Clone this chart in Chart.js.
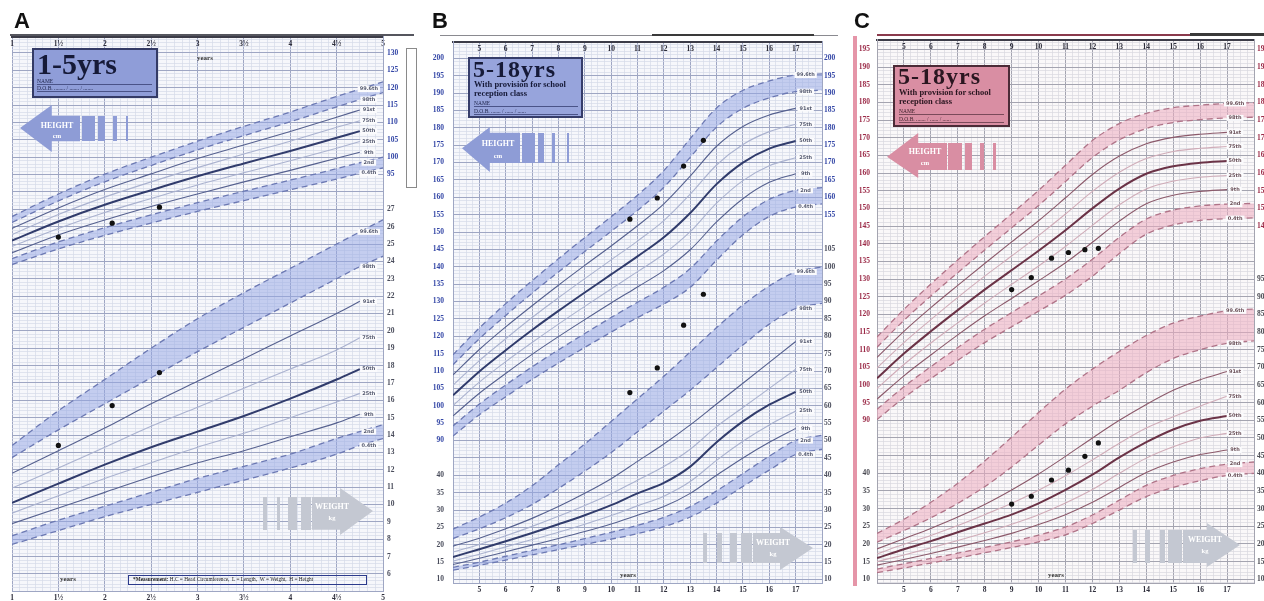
<!DOCTYPE html>
<html lang="en">
<head>
<meta charset="UTF-8">
<meta name="viewport" content="width=device-width, initial-scale=1.0">
<title>Growth charts A, B, C</title>
<script src="https://cdn.jsdelivr.net/npm/chart.js"></script>
<style>
  body { margin: 0; background: #fff; }
  #page { position: relative; width: 1264px; height: 601px; overflow: hidden; font-family: "Liberation Serif", serif; }
  #page canvas { position: absolute; }
  .abs { position: absolute; white-space: nowrap; }
  .letter { font: bold 22px/22px "Liberation Sans", Arial, sans-serif; color: #111; }
  .tbox { position: absolute; box-sizing: border-box; border: 2px solid; }
  .big { font-weight: bold; line-height: 1; }
  .sub { font-weight: bold; font-size: 8.5px; line-height: 1; }
  .fld { font-size: 5.5px; line-height: 6px; border-bottom: 1px solid; box-sizing: border-box; }
  .atext { color: #fff; font: bold 8px/1 "Liberation Serif", serif; text-align: center; }
  .years { font: bold 7px/1 "Liberation Serif", serif; color: #333; }
</style>
</head>
<body>
<div id="page">
  <canvas id="chartA" width="420" height="577" style="left:0;top:28px"></canvas>
  <canvas id="chartB" width="420" height="577" style="left:420px;top:28px"></canvas>
  <canvas id="chartC" width="419" height="577" style="left:845px;top:28px"></canvas>

  <div class="abs letter" style="left:14px;top:10px">A</div>
  <div class="abs letter" style="left:432px;top:10px">B</div>
  <div class="abs letter" style="left:854px;top:10px">C</div>

  <div class="abs" style="left:10px;top:34px;width:404px;height:2px;background:#55565e"></div>
  <div class="abs" style="left:440px;top:35px;width:398px;height:1px;background:#8a8a90"></div>
  <div class="abs" style="left:652px;top:34px;width:162px;height:2px;background:#3a3a3a"></div>
  <div class="abs" style="left:877px;top:34px;width:313px;height:2px;background:#8a3a4c"></div>
  <div class="abs" style="left:1190px;top:33px;width:74px;height:3px;background:#3a3a3a"></div>
  <div class="abs" style="left:853px;top:36px;width:4px;height:550px;background:#e595a8"></div>

  <!-- A: title box -->
  <div class="tbox" style="left:32px;top:48px;width:126px;height:50px;background:#8f9dd8;border-color:#343b66"></div>
  <div class="abs big" style="left:37px;top:49px;font-size:30px;color:#161a38">1-5yrs</div>
  <div class="abs fld" style="left:37px;top:78px;width:115px;color:#22284f;border-color:#4a5388">NAME</div>
  <div class="abs fld" style="left:37px;top:85px;width:115px;color:#22284f;border-color:#4a5388">D.O.B. ........ / ....... / .......</div>
  <div class="abs years" style="left:197px;top:55px">years</div>
  <div class="abs" style="left:406px;top:48px;width:11px;height:140px;border:1px solid #8a8a8a;box-sizing:border-box;background:#fff"></div>

  <!-- A: height arrow -->
  <div class="abs" style="left:20px;top:105px;width:60px;height:47px;background:#8e9cd6;clip-path:polygon(0 49%,53% 0,53% 23%,100% 23%,100% 77%,53% 77%,53% 100%)"></div>
  <div class="abs" style="left:82px;top:116px;width:13px;height:25px;background:#8e9cd6"></div>
  <div class="abs" style="left:98px;top:116px;width:7px;height:25px;background:#8e9cd6"></div>
  <div class="abs" style="left:113px;top:116px;width:4px;height:25px;background:#8e9cd6"></div>
  <div class="abs" style="left:126px;top:116px;width:2px;height:25px;background:#8e9cd6"></div>
  <div class="abs atext" style="left:37px;top:122px;width:40px">HEIGHT</div>
  <div class="abs atext" style="left:37px;top:133px;width:40px;font-size:6.5px">cm</div>

  <!-- A: weight arrow -->
  <div class="abs" style="left:263px;top:497px;width:4px;height:33px;background:#c4c8d2"></div>
  <div class="abs" style="left:277px;top:497px;width:3px;height:33px;background:#c4c8d2"></div>
  <div class="abs" style="left:288px;top:497px;width:9px;height:33px;background:#c4c8d2"></div>
  <div class="abs" style="left:301px;top:497px;width:10px;height:33px;background:#c4c8d2"></div>
  <div class="abs" style="left:312px;top:488px;width:61px;height:47px;background:#c4c8d2;clip-path:polygon(0 19%,46% 19%,46% 0,100% 49%,46% 100%,46% 89%,0 89%)"></div>
  <div class="abs atext" style="left:311px;top:503px;width:42px">WEIGHT</div>
  <div class="abs atext" style="left:311px;top:515px;width:42px;font-size:6.5px">kg</div>

  <div class="abs years" style="left:60px;top:576px">years</div>
  <div class="abs" style="left:128px;top:575px;width:239px;height:10px;border:1.5px solid #2b3a8c;box-sizing:border-box;font:5.3px/7px 'Liberation Serif',serif;color:#222;padding-left:4px"><b>*Measurement:</b> H.C = Head Circumference, &nbsp;L = Length, &nbsp;W = Weight, &nbsp;H = Height</div>

  <!-- B: title box -->
  <div class="tbox" style="left:468px;top:57px;width:115px;height:61px;background:#97a4dc;border-color:#363d6a"></div>
  <div class="abs big" style="left:473px;top:57px;font-size:24px;letter-spacing:1px;color:#161a38">5-18yrs</div>
  <div class="abs sub" style="left:474px;top:80px;color:#161a38">With provision for school</div>
  <div class="abs sub" style="left:474px;top:88.5px;color:#161a38">reception class</div>
  <div class="abs fld" style="left:474px;top:100px;width:104px;color:#22284f;border-color:#4a5388">NAME</div>
  <div class="abs fld" style="left:474px;top:108px;width:104px;color:#22284f;border-color:#4a5388">D.O.B. ....... / ...... / ......</div>

  <!-- B: height arrow -->
  <div class="abs" style="left:462px;top:127px;width:58px;height:45px;background:#8e9cd6;clip-path:polygon(0 47%,48% 0,48% 13%,100% 13%,100% 80%,48% 80%,48% 100%)"></div>
  <div class="abs" style="left:522px;top:133px;width:13px;height:30px;background:#8e9cd6"></div>
  <div class="abs" style="left:538px;top:133px;width:6px;height:30px;background:#8e9cd6"></div>
  <div class="abs" style="left:552px;top:133px;width:3px;height:30px;background:#8e9cd6"></div>
  <div class="abs" style="left:567px;top:133px;width:2px;height:30px;background:#8e9cd6"></div>
  <div class="abs atext" style="left:477px;top:140px;width:42px">HEIGHT</div>
  <div class="abs atext" style="left:477px;top:153px;width:42px;font-size:6.5px">cm</div>

  <!-- B: weight arrow -->
  <div class="abs" style="left:703px;top:533px;width:4px;height:30px;background:#c4c8d2"></div>
  <div class="abs" style="left:717px;top:533px;width:5px;height:30px;background:#c4c8d2"></div>
  <div class="abs" style="left:730px;top:533px;width:7px;height:30px;background:#c4c8d2"></div>
  <div class="abs" style="left:741px;top:533px;width:11px;height:30px;background:#c4c8d2"></div>
  <div class="abs" style="left:753px;top:527px;width:60px;height:43px;background:#c4c8d2;clip-path:polygon(0 14%,45% 14%,45% 0,100% 49%,45% 100%,45% 84%,0 84%)"></div>
  <div class="abs atext" style="left:753px;top:539px;width:40px">WEIGHT</div>
  <div class="abs atext" style="left:753px;top:551px;width:40px;font-size:6.5px">kg</div>
  <div class="abs years" style="left:620px;top:572px">years</div>

  <!-- C: title box -->
  <div class="tbox" style="left:893px;top:65px;width:117px;height:62px;background:#d98ea3;border-color:#4b2b37"></div>
  <div class="abs big" style="left:898px;top:64px;font-size:24px;letter-spacing:1px;color:#2a1620">5-18yrs</div>
  <div class="abs sub" style="left:899px;top:88px;color:#2a1620">With provision for school</div>
  <div class="abs sub" style="left:899px;top:96.5px;color:#2a1620">reception class</div>
  <div class="abs fld" style="left:899px;top:108px;width:105px;color:#3a1e28;border-color:#7a4a5a">NAME</div>
  <div class="abs fld" style="left:899px;top:116px;width:105px;color:#3a1e28;border-color:#7a4a5a">D.O.B. ....... / ...... / ......</div>

  <!-- C: height arrow -->
  <div class="abs" style="left:887px;top:133px;width:60px;height:45px;background:#d98ea3;clip-path:polygon(0 53%,52% 0,52% 22%,100% 22%,100% 82%,52% 82%,52% 100%)"></div>
  <div class="abs" style="left:948px;top:143px;width:14px;height:27px;background:#d98ea3"></div>
  <div class="abs" style="left:965px;top:143px;width:7px;height:27px;background:#d98ea3"></div>
  <div class="abs" style="left:980px;top:143px;width:4px;height:27px;background:#d98ea3"></div>
  <div class="abs" style="left:993px;top:143px;width:3px;height:27px;background:#d98ea3"></div>
  <div class="abs atext" style="left:905px;top:148px;width:40px">HEIGHT</div>
  <div class="abs atext" style="left:905px;top:160px;width:40px;font-size:6.5px">cm</div>

  <!-- C: weight arrow -->
  <div class="abs" style="left:1133px;top:530px;width:4px;height:33px;background:#c4c8d2"></div>
  <div class="abs" style="left:1145px;top:530px;width:5px;height:33px;background:#c4c8d2"></div>
  <div class="abs" style="left:1160px;top:530px;width:5px;height:33px;background:#c4c8d2"></div>
  <div class="abs" style="left:1168px;top:530px;width:14px;height:33px;background:#c4c8d2"></div>
  <div class="abs" style="left:1183px;top:523px;width:57px;height:44px;background:#c4c8d2;clip-path:polygon(0 16%,42% 16%,42% 0,100% 50%,42% 100%,42% 91%,0 91%)"></div>
  <div class="abs atext" style="left:1184px;top:536px;width:42px">WEIGHT</div>
  <div class="abs atext" style="left:1184px;top:548px;width:42px;font-size:6.5px">kg</div>
  <div class="abs years" style="left:1048px;top:572px">years</div>
</div>

<script>
// centile order used in every table below
const centileNames = ['99.6th', '98th', '91st', '75th', '50th', '25th', '9th', '2nd', '0.4th'];

// ---- A: 1-5 yrs (boy) ----
const aAges = [1, 1.5, 2, 2.5, 3, 3.5, 4, 4.5, 4.75, 5];
const aHeight = [
  [82.9, 89.4, 95.1, 100.0, 104.6, 108.9, 113.0, 117.5, 119.6, 121.7],
  [81.2, 87.4, 92.9, 97.6, 102.1, 106.2, 110.2, 114.5, 116.6, 118.6],
  [79.5, 85.4, 90.7, 95.2, 99.6, 103.5, 107.4, 111.5, 113.6],
  [77.7, 83.5, 88.5, 92.9, 97.0, 100.9, 104.6, 108.6, 110.5],
  [76.0, 81.5, 86.3, 90.5, 94.5, 98.2, 101.8, 105.6, 107.5],
  [74.3, 79.5, 84.1, 88.1, 92.0, 95.5, 99.0, 102.6, 104.5],
  [72.5, 77.6, 81.9, 85.8, 89.4, 92.9, 96.2, 99.7, 101.4],
  [70.8, 75.6, 79.7, 83.4, 86.9, 90.2, 93.4, 96.7, 98.4, 100.0],
  [69.1, 73.6, 77.5, 81.0, 84.4, 87.5, 90.6, 93.7, 95.4, 96.9]
];
const aWeight = [
  [13.4, 15.4, 17.2, 19.0, 20.7, 22.2, 23.6, 25.0, 25.7, 26.4],
  [12.7, 14.3, 15.8, 17.3, 18.8, 20.2, 21.6, 23.0, 23.7, 24.3],
  [11.8, 13.1, 14.4, 15.8, 17.1, 18.4, 19.7, 21.0, 21.7],
  [10.95, 12.1, 13.3, 14.5, 15.6, 16.7, 17.8, 18.9, 19.6],
  [10.1, 11.2, 12.3, 13.3, 14.2, 15.1, 16.1, 17.2, 17.8],
  [9.5, 10.5, 11.5, 12.4, 13.3, 14.1, 15.0, 15.9, 16.4],
  [8.9, 9.8, 10.7, 11.6, 12.4, 13.1, 13.9, 14.7, 15.2],
  [8.2, 9.1, 9.9, 10.7, 11.5, 12.2, 12.9, 13.8, 14.2, 14.6],
  [7.7, 8.5, 9.3, 10.0, 10.7, 11.4, 12.1, 12.9, 13.4, 13.8]
];
const aDotAges = [1.5, 2.08, 2.59];
const aDotHeight = [77.0, 81.0, 85.6];
const aDotWeight = [13.4, 15.7, 17.6];
const aYearTicks = [1, 1.5, 2, 2.5, 3, 3.5, 4, 4.5, 5];
const aYearLabels = ['1', '1½', '2', '2½', '3', '3½', '4', '4½', '5'];
const aHeightTicks = [95, 100, 105, 110, 115, 120, 125, 130];
const aWeightTicks = [6, 7, 8, 9, 10, 11, 12, 13, 14, 15, 16, 17, 18, 19, 20, 21, 22, 23, 24, 25, 26, 27];

// ---- B: 5-18 yrs (boy) ----
const bAges = [4, 5, 6, 7, 8, 9, 10, 11, 12, 13, 14, 15, 16, 17, 18];
const bHeight = [
  [114.7, 122.4, 129.4, 136.0, 142.3, 148.4, 154.4, 160.6, 167.7, 176.9, 185.7, 190.8, 193.5, 195.2, 195.5],
  [111.8, 119.3, 126.0, 132.4, 138.5, 144.4, 150.2, 156.2, 162.9, 171.5, 180.2, 185.6, 188.6, 190.4, 190.8],
  [108.9, 116.2, 122.7, 128.8, 134.7, 140.4, 146.0, 151.8, 158.1, 166.1, 174.7, 180.4, 183.7, 185.6, 186.1],
  [105.9, 113.0, 119.3, 125.4, 131.1, 136.6, 142.0, 147.4, 153.3, 160.9, 169.3, 175.2, 178.9, 181.0, 181.5],
  [103.0, 109.9, 116.0, 121.8, 127.3, 132.6, 137.8, 143.0, 148.5, 155.5, 163.8, 170.0, 174.0, 176.2, 176.8],
  [100.1, 106.8, 112.7, 118.2, 123.5, 128.6, 133.6, 138.6, 143.7, 150.1, 158.3, 164.8, 169.1, 171.4, 172.1],
  [97.1, 103.6, 109.3, 114.8, 119.9, 124.8, 129.6, 134.2, 138.9, 144.9, 152.9, 159.6, 164.3, 166.8, 167.5],
  [94.2, 100.5, 106.0, 111.2, 116.1, 120.8, 125.4, 129.8, 134.1, 139.5, 147.4, 154.4, 159.4, 162.0, 162.8],
  [91.3, 97.4, 102.6, 107.6, 112.3, 116.8, 121.2, 125.4, 129.3, 134.1, 141.9, 149.2, 154.5, 157.2, 158.1]
];
const bWeight = [
  [24.5, 28.0, 32.0, 37.0, 43.0, 49.0, 55.5, 62.0, 68.5, 75.5, 82.5, 89.0, 94.5, 98.5, 100.0],
  [21.8, 24.6, 27.8, 31.6, 36.2, 41.2, 46.5, 52.5, 58.5, 64.5, 71.0, 77.5, 83.5, 88.0, 89.5],
  [19.6, 21.9, 24.6, 27.6, 31.0, 34.8, 39.0, 44.0, 49.0, 54.5, 60.5, 66.5, 72.5, 78.5, 80.5],
  [17.9, 20.1, 22.6, 25.3, 28.2, 31.3, 34.7, 38.6, 42.5, 47.5, 54.0, 59.5, 65.0, 70.5, 72.5],
  [16.5, 18.7, 21.0, 23.4, 25.9, 28.5, 31.4, 34.8, 37.8, 42.5, 49.5, 55.5, 60.3, 64.0, 65.5],
  [15.3, 17.3, 19.4, 21.5, 23.6, 25.9, 28.4, 31.2, 34.0, 38.2, 44.3, 49.8, 54.5, 58.5, 60.0],
  [14.3, 16.1, 18.0, 19.9, 21.8, 23.8, 26.0, 28.5, 31.0, 34.8, 40.0, 45.0, 49.5, 53.5, 55.0],
  [13.5, 15.0, 16.7, 18.4, 20.0, 21.8, 23.6, 25.6, 27.9, 31.0, 35.5, 40.5, 45.5, 50.0, 51.5],
  [12.7, 14.1, 15.6, 17.1, 18.6, 20.1, 21.6, 23.2, 25.2, 28.0, 32.0, 36.8, 41.5, 46.0, 47.5]
];
const bDotAges = [10.71, 11.75, 12.75, 13.5];
const bDotHeight = [153.7, 159.8, 169.0, 176.4];
const bDotWeight = [63.8, 70.9, 83.2, 92.1];
const bYearTicks = [5, 6, 7, 8, 9, 10, 11, 12, 13, 14, 15, 16, 17];
const bHeightLeft = [90, 95, 100, 105, 110, 115, 120, 125, 130, 135, 140, 145, 150, 155, 160, 165, 170, 175, 180, 185, 190, 195, 200];
const bWeightLeft = [10, 15, 20, 25, 30, 35, 40];
const bHeightRight = [155, 160, 165, 170, 175, 180, 185, 190, 195, 200];
const bWeightRight = [10, 15, 20, 25, 30, 35, 40, 45, 50, 55, 60, 65, 70, 75, 80, 85, 90, 95, 100, 105];

// ---- C: 5-18 yrs (girl) ----
const cAges = [4, 5, 6, 7, 8, 9, 10, 11, 12, 13, 14, 15, 16, 17, 18];
const cHeight = [
  [113.6, 121.4, 128.6, 135.4, 142.0, 148.5, 155.1, 162.2, 169.2, 174.0, 176.9, 178.5, 179.2, 179.7, 179.9],
  [110.7, 118.3, 125.2, 131.8, 138.2, 144.5, 150.8, 157.6, 164.4, 169.4, 172.6, 174.3, 175.1, 175.6, 175.8],
  [107.8, 115.2, 121.9, 128.2, 134.4, 140.5, 146.5, 153.0, 159.6, 164.8, 168.3, 170.1, 171.0, 171.5, 171.7],
  [104.8, 112.0, 118.5, 124.8, 130.8, 136.5, 142.3, 148.4, 154.8, 160.2, 164.1, 166.1, 167.0, 167.5, 167.7],
  [101.9, 108.9, 115.2, 121.2, 127.0, 132.5, 138.0, 143.8, 150.0, 155.6, 159.8, 161.9, 162.9, 163.4, 163.6],
  [99.0, 105.8, 111.9, 117.6, 123.2, 128.5, 133.7, 139.2, 145.2, 151.0, 155.5, 157.7, 158.8, 159.3, 159.5],
  [96.0, 102.6, 108.5, 114.2, 119.6, 124.5, 129.5, 134.6, 140.4, 146.4, 151.3, 153.7, 154.8, 155.3, 155.5],
  [93.1, 99.5, 105.2, 110.6, 115.8, 120.5, 125.2, 130.0, 135.6, 141.8, 147.0, 149.5, 150.7, 151.2, 151.4],
  [90.2, 96.4, 101.8, 107.0, 112.0, 116.5, 120.9, 125.4, 130.8, 137.2, 142.7, 145.3, 146.6, 147.1, 147.3]
];
const cWeight = [
  [23.0, 27.0, 31.8, 37.2, 43.5, 50.2, 57.2, 63.8, 69.5, 74.5, 79.0, 82.5, 84.5, 86.0, 86.5],
  [20.5, 23.8, 27.4, 31.5, 36.2, 41.8, 48.0, 54.0, 59.0, 63.5, 68.5, 72.5, 75.0, 76.8, 77.5],
  [18.6, 21.5, 24.4, 27.6, 31.2, 35.3, 39.8, 44.8, 50.0, 55.0, 59.5, 63.5, 66.5, 68.8, 69.5],
  [17.2, 19.9, 22.4, 25.2, 28.3, 31.5, 35.2, 39.3, 43.8, 48.5, 52.8, 56.0, 59.0, 61.8, 62.5],
  [16.0, 18.5, 20.8, 23.3, 25.8, 28.3, 31.5, 35.3, 39.6, 44.5, 48.8, 52.4, 54.9, 56.2, 56.8],
  [15.0, 16.9, 18.9, 21.0, 23.2, 25.6, 28.3, 31.6, 35.4, 40.0, 44.3, 47.5, 50.0, 51.3, 51.8],
  [14.0, 15.6, 17.3, 19.1, 21.0, 23.0, 25.5, 28.3, 31.8, 36.0, 40.2, 43.2, 45.3, 46.6, 47.2],
  [12.9, 14.4, 15.9, 17.4, 19.0, 20.6, 22.5, 24.8, 28.2, 32.4, 36.6, 39.4, 41.3, 42.6, 43.2],
  [11.9, 13.2, 14.6, 16.0, 17.5, 19.0, 20.6, 22.6, 25.8, 29.6, 33.4, 36.0, 37.9, 39.4, 40.0]
];
const cDotAges = [9.0, 9.73, 10.48, 11.11, 11.72, 12.22];
const cDotHeight = [127.0, 130.4, 135.9, 137.5, 138.3, 138.7];
const cDotWeight = [31.3, 33.5, 38.1, 40.9, 44.8, 48.6];
const cYearTicks = [5, 6, 7, 8, 9, 10, 11, 12, 13, 14, 15, 16, 17];
const cHeightLeft = [90, 95, 100, 105, 110, 115, 120, 125, 130, 135, 140, 145, 150, 155, 160, 165, 170, 175, 180, 185, 190, 195];
const cWeightLeft = [10, 15, 20, 25, 30, 35, 40];
const cHeightRight = [145, 150, 155, 160, 165, 170, 175, 180, 185, 190, 195];
const cWeightRight = [10, 15, 20, 25, 30, 35, 40, 45, 50, 55, 60, 65, 70, 75, 80, 85, 90, 95];

const bluePal = { line: '#56618f', thick: '#313c6c', light: '#aab2cf', dash: '#6c79b3', fill: 'rgba(150,166,228,0.52)',
  gridMinor: '#d6dae8', gridMajor: '#9ea6c3', bg: '#f6f7fb', ht: '#3346a6', wt: '#4a4d5c', tag: '#555a70' };
const pinkPal = { line: '#8c5a6b', thick: '#6b3347', light: '#d0acb8', dash: '#b07488', fill: 'rgba(236,172,192,0.55)',
  gridMinor: '#d9d9df', gridMajor: '#a4a4b0', bg: '#faf8f9', ht: '#9b2b48', wt: '#4a4a52', tag: '#6a5058' };

const tickFont = { family: '"Liberation Serif", serif', size: 7.5, weight: 'bold' };

function stepTicks(min, max, per) {
  const out = [];
  for (let k = Math.ceil(min * per - 1e-9); k <= Math.floor(max * per + 1e-9); k++) out.push({ value: k / per });
  return out;
}

function centileSets(ages, rows, axisId, p) {
  return rows.map((row, i) => {
    const band = i === 0 || i === 1 || i === 7 || i === 8;
    const n = band ? row.length : Math.min(row.length, p.endIndex + 1);
    return {
      label: centileNames[i],
      data: row.slice(0, n).map((v, j) => ({ x: ages[j], y: v })),
      yAxisID: axisId,
      endIndex: p.endIndex,
      borderColor: band ? p.pal.dash : i === 4 ? p.pal.thick : (i === 3 || i === 5) ? p.pal.light : p.pal.line,
      borderWidth: i === 4 ? 2 : band ? 1.3 : 1.1,
      borderDash: band ? [6, 4] : [],
      backgroundColor: p.pal.fill,
      fill: (i === 0 || i === 7) ? '+1' : false,
      pointRadius: 0,
      cubicInterpolationMode: 'monotone',
      order: 1
    };
  });
}

function dotSet(ages, vals, axisId) {
  return {
    data: ages.map((x, j) => ({ x, y: vals[j] })), yAxisID: axisId, showLine: false,
    pointRadius: 2.6, pointBackgroundColor: '#111', pointBorderWidth: 0, borderColor: '#111', order: -1
  };
}

// white-backed centile names at the end of each line
const centileTags = {
  id: 'centileTags',
  afterDatasetsDraw(chart, args, opts) {
    const ctx = chart.ctx;
    ctx.save();
    ctx.font = 'bold 5px "DejaVu Sans", sans-serif';
    ctx.textAlign = 'center';
    ctx.textBaseline = 'middle';
    chart.data.datasets.forEach((ds, i) => {
      if (ds.endIndex === undefined) return;
      const pt = chart.getDatasetMeta(i).data[ds.endIndex];
      if (!pt) return;
      const x = pt.x + opts.offset, y = pt.y;
      const w = ctx.measureText(ds.label).width + 4;
      ctx.fillStyle = '#fbfbfd';
      ctx.fillRect(x - w / 2, y - 3, w, 6);
      ctx.fillStyle = opts.color;
      ctx.fillText(ds.label, x, y);
    });
    ctx.restore();
  }
};

const plotBg = {
  id: 'plotBg',
  beforeDraw(chart, args, opts) {
    const { ctx, chartArea: c } = chart;
    ctx.save();
    ctx.fillStyle = opts.color;
    ctx.fillRect(c.left, c.top, c.width, c.height);
    ctx.restore();
  }
};

function xAxis(p, position) {
  const top = position === 'top';
  return {
    type: 'linear', position, min: p.xMin, max: p.xMax,
    afterBuildTicks: s => { s.ticks = stepTicks(p.xMin, p.xMax, p.xPer); },
    afterFit: s => { s.height = top ? 8 : p.bottomH; },
    grid: top ? {
      drawTicks: false,
      color: c => p.xMajor(c.tick.value) ? p.pal.gridMajor : p.pal.gridMinor,
      lineWidth: c => p.xMajor(c.tick.value) ? 1 : 0.7
    } : { display: false, drawTicks: false },
    border: { display: true, color: top ? '#3c3c48' : p.pal.gridMajor, width: top ? 2 : 1 },
    ticks: { autoSkip: false, maxRotation: 0, mirror: top, padding: 3, font: tickFont, color: '#2d2d3a', callback: v => p.xLabel(v) }
  };
}

function yAxis(p, a) {
  if (!a.display) return { type: 'linear', display: false, min: a.min, max: a.max };
  return {
    type: 'linear', position: a.position, min: a.min, max: a.max,
    afterBuildTicks: s => { s.ticks = stepTicks(a.min, a.max, a.per); },
    afterFit: s => { s.width = a.width; },
    grid: a.grid ? {
      drawTicks: false,
      color: c => a.major(c.tick.value) ? p.pal.gridMajor : p.pal.gridMinor,
      lineWidth: c => a.major(c.tick.value) ? 1 : 0.7
    } : { display: false, drawTicks: false },
    border: { display: true, color: p.pal.gridMajor, width: 1 },
    ticks: { autoSkip: false, padding: a.padding, font: tickFont, callback: v => a.label(v),
      color: c => a.isHeight(c.tick.value) ? p.pal.ht : p.pal.wt }
  };
}

function growthChart(id, p) {
  const datasets = [
    ...centileSets(p.ages, p.height, 'yH', p),
    ...centileSets(p.ages, p.weight, 'yW', p),
    dotSet(p.dotAges, p.dotHeight, 'yH'),
    dotSet(p.dotAges, p.dotWeight, 'yW')
  ];
  return new Chart(document.getElementById(id), {
    type: 'line',
    data: { datasets },
    plugins: [plotBg, centileTags],
    options: {
      responsive: false, animation: false, devicePixelRatio: 1,
      layout: { padding: { left: p.padLeft, right: 0, top: 0, bottom: 0 } },
      plugins: {
        legend: { display: false }, tooltip: { enabled: false },
        filler: { drawTime: 'beforeDatasetsDraw' },
        plotBg: { color: p.pal.bg },
        centileTags: { offset: p.tagOffset, color: p.pal.tag }
      },
      scales: { x: xAxis(p, 'top'), x2: xAxis(p, 'bottom'), yH: yAxis(p, p.yH), yW: yAxis(p, p.yW) }
    }
  });
}

const near = (list, v) => list.findIndex(t => Math.abs(t - v) < 1e-6);

growthChart('chartA', {
  pal: bluePal, ages: aAges, height: aHeight, weight: aWeight, endIndex: 8,
  dotAges: aDotAges, dotHeight: aDotHeight, dotWeight: aDotWeight,
  xMin: 1, xMax: 5, xPer: 12, padLeft: 12, bottomH: 14, tagOffset: 9,
  xMajor: v => Math.abs(v * 2 - Math.round(v * 2)) < 1e-6,
  xLabel: v => { const i = near(aYearTicks, v); return i < 0 ? '' : aYearLabels[i]; },
  yH: { display: false, min: -24.9, max: 134.75 },
  yW: { display: true, position: 'right', min: 5.02, max: 36.95, per: 5, grid: true, width: 37, padding: 4,
    major: v => Number.isInteger(v),
    label: v => !Number.isInteger(v) ? '' : aWeightTicks.includes(v) ? String(v) : aHeightTicks.includes(5 * v - 50) ? String(5 * v - 50) : '',
    isHeight: v => Number.isInteger(v) && aHeightTicks.includes(5 * v - 50) }
});

growthChart('chartB', {
  pal: bluePal, ages: bAges, height: bHeight, weight: bWeight, endIndex: 13,
  dotAges: bDotAges, dotHeight: bDotHeight, dotWeight: bDotWeight,
  xMin: 4, xMax: 18, xPer: 4, padLeft: 0, bottomH: 22, tagOffset: 10,
  xMajor: v => Number.isInteger(v),
  xLabel: v => near(bYearTicks, v) < 0 ? '' : String(v),
  yH: { display: true, position: 'left', min: 49.0, max: 204.84, per: 1, grid: true, width: 33, padding: 9,
    major: v => v % 5 === 0,
    label: v => bHeightLeft.includes(v) ? String(v) : bWeightLeft.includes(v - 40) ? String(v - 40) : '',
    isHeight: v => bHeightLeft.includes(v) },
  yW: { display: true, position: 'right', min: 9.0, max: 164.84, per: 1, grid: false, width: 18, padding: 2,
    label: v => bWeightRight.includes(v) ? String(v) : bHeightRight.includes(v + 40) ? String(v + 40) : '',
    isHeight: v => bHeightRight.includes(v + 40) }
});

growthChart('chartC', {
  pal: pinkPal, ages: cAges, height: cHeight, weight: cWeight, endIndex: 13,
  dotAges: cDotAges, dotHeight: cDotHeight, dotWeight: cDotWeight,
  xMin: 4, xMax: 18, xPer: 4, padLeft: 0, bottomH: 22, tagOffset: 8,
  xMajor: v => Number.isInteger(v),
  xLabel: v => near(cYearTicks, v) < 0 ? '' : String(v),
  yH: { display: true, position: 'left', min: 43.95, max: 197.8, per: 1, grid: true, width: 32, padding: 7,
    major: v => v % 5 === 0,
    label: v => cHeightLeft.includes(v) ? String(v) : cWeightLeft.includes(v - 35) ? String(v - 35) : '',
    isHeight: v => cHeightLeft.includes(v) },
  yW: { display: true, position: 'right', min: 8.95, max: 162.8, per: 1, grid: false, width: 10, padding: 3,
    label: v => cWeightRight.includes(v) ? String(v) : cHeightRight.includes(v + 35) ? String(v + 35) : '',
    isHeight: v => cHeightRight.includes(v + 35) }
});
</script>
</body>
</html>
